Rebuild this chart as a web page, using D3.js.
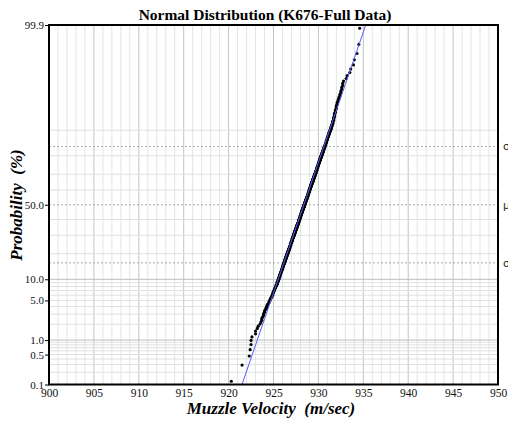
<!DOCTYPE html>
<html><head><meta charset="utf-8">
<script src="https://cdn.jsdelivr.net/npm/d3@7"></script>
<style>body{margin:0;background:#fff;} svg{display:block;} .serif{font-family:'Liberation Serif','Times New Roman',Times,'DejaVu Serif',serif;}</style>
</head><body><svg id="c" width="508" height="422"></svg>
<script>
// ---- data (muzzle velocity, m/sec, value + number of rounds) ----
const velocity = [920.3,921.5,922.3,922.4,922.5,922.6,923.0,923.2,923.3,923.5,
923.6,923.7,923.8,923.9,924.0,924.1,924.2,924.3,924.4,924.5,
924.6,924.7,924.8,924.9,925.0,925.1,925.2,925.3,925.4,925.5,
925.6,925.7,925.8,925.9,926.0,926.1,926.2,926.3,926.4,926.5,
926.6,926.7,926.8,926.9,927.0,927.1,927.2,927.3,927.4,927.5,
927.6,927.7,927.8,927.9,928.0,928.1,928.2,928.3,928.4,928.5,
928.6,928.7,928.8,928.9,929.0,929.1,929.2,929.3,929.4,929.5,
929.6,929.7,929.8,929.9,930.0,930.1,930.2,930.3,930.4,930.5,
930.6,930.7,930.8,930.9,931.0,931.1,931.2,931.3,931.4,931.5,
931.6,931.7,931.8,931.9,932.0,932.1,932.2,932.3,932.4,932.5,
932.6,932.7,932.8,933.1,933.2,933.5,933.6,933.9,934.0,934.3,
934.5,934.6];
const count = [1,1,1,1,2,1,2,1,1,1,
1,2,1,2,2,1,2,2,1,2,
2,2,2,3,3,3,3,3,4,4,
5,5,5,5,6,6,6,7,7,7,
7,8,7,9,8,9,8,9,10,9,
10,9,10,10,10,10,11,10,10,11,
10,10,10,10,10,10,10,9,10,9,
9,9,9,8,8,8,8,7,7,7,
6,6,6,6,6,5,5,4,5,4,
5,5,5,4,4,3,2,2,2,2,
2,2,1,1,1,1,1,1,1,1,
1,1];
const fitMean = 928.38, fitSD = 2.23;
const xTicks = [900,905,910,915,920,925,930,935,940,945,950];
const yTickValues = [0.1,0.5,1,5,10,50,99.9];
const yTickLabels = ["0.1","0.5","1.0","5.0","10.0","50.0","99.9"];
const gridLight = [0.2,0.3,0.4,0.5,0.6,0.7,0.8,0.9,2,3,4,5,6,7,8,9,20,30,40,60,70,80,90];
const gridDark = [1,10];
const sigmaZ = [1,0,-1];
const sigmaText = ["σ","μ","σ"];
const title = "Normal Distribution (K676-Full Data)";
const xTitle = "Muzzle Velocity  (m/sec)";
const yTitle = "Probability  (%)";

// ---- inverse normal CDF (probit) ----
function probit(p){
  const a=[-3.969683028665376e+01,2.209460984245205e+02,-2.759285104469687e+02,1.383577518672690e+02,-3.066479806614716e+01,2.506628277459239e+00];
  const b=[-5.447609879822406e+01,1.615858368580409e+02,-1.556989798598866e+02,6.680131188771972e+01,-1.328068155288572e+01];
  const c=[-7.784894002430293e-03,-3.223964580411365e-01,-2.400758277161838e+00,-2.549671348138530e+00,4.374664141464968e+00,2.938163982698783e+00];
  const d=[7.784695709041462e-03,3.224671290700398e-01,2.445134137142996e+00,3.754408661907416e+00];
  const pl=0.02425; let q,r;
  if(p<pl){q=Math.sqrt(-2*Math.log(p));return (((((c[0]*q+c[1])*q+c[2])*q+c[3])*q+c[4])*q+c[5])/((((d[0]*q+d[1])*q+d[2])*q+d[3])*q+1);}
  if(p<=1-pl){q=p-0.5;r=q*q;return (((((a[0]*r+a[1])*r+a[2])*r+a[3])*r+a[4])*r+a[5])*q/(((((b[0]*r+b[1])*r+b[2])*r+b[3])*r+b[4])*r+1);}
  q=Math.sqrt(-2*Math.log(1-p));return -(((((c[0]*q+c[1])*q+c[2])*q+c[3])*q+c[4])*q+c[5])/((((d[0]*q+d[1])*q+d[2])*q+d[3])*q+1);
}

// expand into sorted observations with median-rank plotting positions
const obs = [];
velocity.forEach((v,i)=>{ for(let k=0;k<count[i];k++) obs.push(v); });
obs.sort((a,b)=>a-b);
const n = obs.length;
const pts = obs.map((v,i)=>({v, z: probit((i+1-0.3)/(n+0.4))}));

const L=49, R=498, T=25, B=384.5;
const svg = d3.select("#c");
const x = d3.scaleLinear().domain([900,950]).range([L,R]);
const zMin = probit(0.001), zMax = probit(0.999);
const y = d3.scaleLinear().domain([zMin,zMax]).range([B,T]);
const yp = p => y(probit(p/100));

// vertical grid
const minorX = d3.range(901,950).filter(v=>v%5!==0);
svg.append("g").selectAll("line").data(minorX).join("line")
  .attr("x1",d=>x(d)).attr("x2",d=>x(d)).attr("y1",T).attr("y2",B)
  .attr("stroke","#e4e4e4").attr("stroke-width",1);
svg.append("g").selectAll("line").data(xTicks.slice(1,-1)).join("line")
  .attr("x1",d=>x(d)).attr("x2",d=>x(d)).attr("y1",T).attr("y2",B)
  .attr("stroke","#c4c4c4").attr("stroke-width",1);
// horizontal grid
svg.append("g").selectAll("line").data(gridLight).join("line")
  .attr("x1",L).attr("x2",R).attr("y1",d=>yp(d)).attr("y2",d=>yp(d))
  .attr("stroke","#e0e0e0").attr("stroke-width",1);
svg.append("g").selectAll("line").data(gridDark).join("line")
  .attr("x1",L).attr("x2",R).attr("y1",d=>yp(d)).attr("y2",d=>yp(d))
  .attr("stroke","#bdbdbd").attr("stroke-width",1);
// sigma / mean dotted lines
svg.append("g").selectAll("line").data(sigmaZ).join("line")
  .attr("x1",L).attr("x2",R).attr("y1",d=>y(d)).attr("y2",d=>y(d))
  .attr("stroke","#a8a8a8").attr("stroke-width",1).attr("stroke-dasharray","2,2");
svg.append("g").selectAll("text").data(sigmaZ).join("text")
  .attr("x",503).attr("y",d=>y(d)).attr("dy","0.35em")
  .attr("font-family","DejaVu Sans").attr("font-size",11).attr("fill","#222")
  .text((d,i)=>sigmaText[i]);

// points
svg.append("g").selectAll("circle").data(pts).join("circle")
  .attr("cx",d=>x(d.v)).attr("cy",d=>y(d.z)).attr("r",1.6).attr("fill","#000");

// fitted line
svg.append("line")
  .attr("x1",x(fitMean+fitSD*zMin)).attr("y1",y(zMin))
  .attr("x2",x(fitMean+fitSD*zMax)).attr("y2",y(zMax))
  .attr("stroke","#5a5aff").attr("stroke-width",1);

// frame
svg.append("rect").attr("x",L).attr("y",T).attr("width",R-L).attr("height",B-T)
  .attr("fill","none").attr("stroke","#000").attr("stroke-width",2);

// axes
const xAxis = d3.axisBottom(x).tickValues(xTicks).tickSize(0).tickPadding(4).tickFormat(d3.format("d"));
const gx = svg.append("g").attr("transform",`translate(0,${B})`).call(xAxis);
gx.select(".domain").remove();
gx.attr("font-family",null);
gx.selectAll("text").attr("class","serif").attr("font-size",11.5).attr("fill","#111");

const yAxis = d3.axisLeft(y).tickValues(yTickValues.map(p=>probit(p/100))).tickSize(4).tickPadding(1)
  .tickFormat((d,i)=>yTickLabels[i]);
const gy = svg.append("g").attr("transform",`translate(${L},0)`).call(yAxis);
gy.select(".domain").remove();
gy.attr("font-family",null);
gy.selectAll("line").attr("stroke","#000");
gy.selectAll("text").attr("class","serif").attr("font-size",11).attr("fill","#111");

// titles
svg.append("text").attr("class","serif").attr("x",265).attr("y",19.5).attr("text-anchor","middle")
  .attr("font-weight","bold").attr("font-size",15.5).text(title);
svg.append("text").attr("class","serif").attr("x",271).attr("y",414).attr("text-anchor","middle")
  .style("white-space","pre")
  .attr("font-weight","bold").attr("font-style","italic").attr("font-size",17).text(xTitle);
svg.append("text").attr("class","serif").attr("transform","translate(22,205) rotate(-90)").attr("text-anchor","middle")
  .style("white-space","pre")
  .attr("font-weight","bold").attr("font-style","italic").attr("font-size",17).text(yTitle);
</script></body></html>
